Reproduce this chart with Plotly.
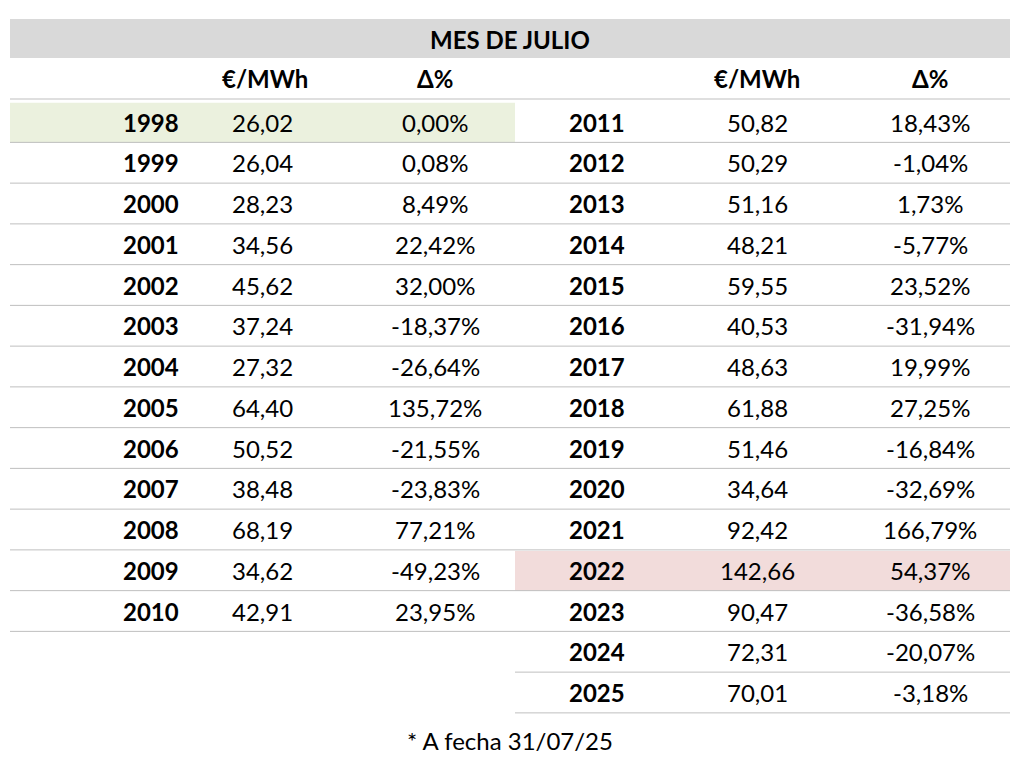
import plotly.graph_objects as go

title = "MES DE JULIO"
years_left = ["1998", "1999", "2000", "2001", "2002", "2003", "2004", "2005", "2006", "2007", "2008", "2009", "2010"]
price_left = ["26,02", "26,04", "28,23", "34,56", "45,62", "37,24", "27,32", "64,40", "50,52", "38,48", "68,19", "34,62", "42,91"]
delta_left = ["0,00%", "0,08%", "8,49%", "22,42%", "32,00%", "-18,37%", "-26,64%", "135,72%", "-21,55%", "-23,83%", "77,21%", "-49,23%", "23,95%"]
years_right = ["2011", "2012", "2013", "2014", "2015", "2016", "2017", "2018", "2019", "2020", "2021", "2022", "2023", "2024", "2025"]
price_right = ["50,82", "50,29", "51,16", "48,21", "59,55", "40,53", "48,63", "61,88", "51,46", "34,64", "92,42", "142,66", "90,47", "72,31", "70,01"]
delta_right = ["18,43%", "-1,04%", "1,73%", "-5,77%", "23,52%", "-31,94%", "19,99%", "27,25%", "-16,84%", "-32,69%", "166,79%", "54,37%", "-36,58%", "-20,07%", "-3,18%"]
headers = ["€/MWh", "Δ%"]
footnote = "* A fecha 31/07/25"

# page has 8px body margin, so the figure is 1008x756 and axis units = screen pixels
W, H = 1008, 756
FONT = "Lato"
row0, step = 122, 40.75
line_col = "#bfbfbf"

fig = go.Figure()
shapes, ann = [], []

def txt(x, y, s, anchor="center", bold=False, size=24):
    ann.append(dict(x=x, y=y, text=f"<b>{s}</b>" if bold else s, showarrow=False,
                    xanchor=anchor, yanchor="middle",
                    font=dict(family=FONT, size=size, color="black")))

# title bar
shapes.append(dict(type="rect", x0=10, x1=1010, y0=19, y1=58, fillcolor="#d9d9d9", line_width=0, layer="below"))
txt(510, 39, title, bold=True)
for hx, s in zip([265, 435, 757, 930], headers * 2):
    txt(hx, 78, s, bold=True)
shapes.append(dict(type="line", x0=10, x1=1010, y0=99, y1=99, line=dict(color=line_col, width=1)))

def block(x0, x1, yx, px, dx, years, prices, deltas, hl, hlcol):
    for i, (yr, p, d) in enumerate(zip(years, prices, deltas)):
        yc = row0 + i * step
        if yr == hl:
            shapes.append(dict(type="rect", x0=x0, x1=x1, y0=yc - step / 2 + 1, y1=yc + step / 2,
                               fillcolor=hlcol, line_width=0, layer="below"))
        txt(yx, yc, yr, anchor="right", bold=True)
        txt(px, yc, p)
        txt(dx, yc, d)
        shapes.append(dict(type="line", x0=x0, x1=x1, y0=yc + step / 2, y1=yc + step / 2,
                           line=dict(color=line_col, width=1)))

block(10, 515, 181, 262, 435, years_left, price_left, delta_left, "1998", "#ebf1de")
block(515, 1010, 627, 757, 930, years_right, price_right, delta_right, "2022", "#f2dcdb")

txt(510, 740, footnote)

fig.update_layout(
    width=W, height=H, margin=dict(l=0, r=0, t=0, b=0),
    plot_bgcolor="white", paper_bgcolor="white",
    xaxis=dict(range=[8, 8 + W], visible=False, fixedrange=True),
    yaxis=dict(range=[8 + H, 8], visible=False, fixedrange=True),
    shapes=shapes, annotations=ann, showlegend=False,
)
fig.write_html("out.html")
